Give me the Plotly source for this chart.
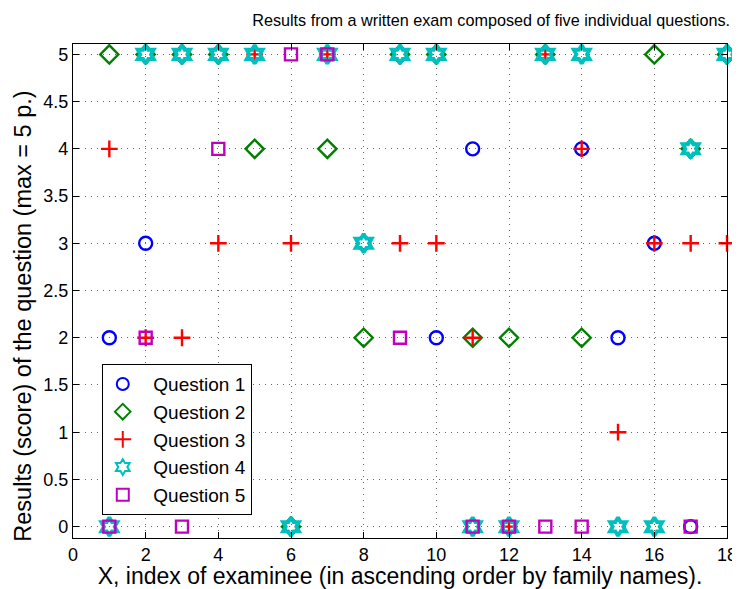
import plotly.graph_objects as go

examinee = list(range(1, 19))
q1 = [2, 3, 5, 5, 5, 0, 5, 3, 5, 2, 4, 0, 5, 4, 2, 3, 0, 5]
q2 = [5, 5, 5, 5, 4, 0, 4, 2, 5, 5, 2, 2, 5, 2, None, 5, 4, 5]
q3 = [4, 2, 2, 3, 5, 3, 5, None, 3, 3, 2, 0, 5, 4, 1, 3, 3, 3]
q4 = [0, 5, 5, 5, 5, 0, 5, 3, 5, 5, 0, 0, 5, 5, 0, 0, 4, 5]
q5 = [0, 2, 0, 4, None, 5, 5, None, 2, None, 0, 0, 0, 0, None, None, 0, None]

series = [
    ("Question 1", q1, "circle-open", "#0000FF", 13, 2.4),
    ("Question 2", q2, "diamond-open", "#008000", 14, 2.4),
    ("Question 3", q3, "cross-thin-open", "#FF0000", 12, 2.4),
    ("Question 4", q4, "hexagram-open", "#00BFBF", 14, 3.8),
    ("Question 5", q5, "square-open", "#BF00BF", 12, 2.4),
]

fig = go.Figure()
for name, vals, sym, col, sz, lw in series:
    fig.add_trace(go.Scatter(
        x=examinee, y=vals, mode="markers", name="\u00a0\u00a0" + name, cliponaxis=False,
        marker=dict(symbol=sym, size=sz, color=col, line=dict(color=col, width=lw)),
    ))

font = "Liberation Sans, Arial, sans-serif"
axis_common = dict(
    showline=True, linecolor="black", linewidth=1.2, mirror="ticks",
    ticks="inside", ticklen=6, tickcolor="black", automargin=False,
    showgrid=True, gridcolor="#666666", griddash="1px,5px", gridwidth=1,
    zeroline=False, tickfont=dict(size=18, color="black", family=font),
)
fig.update_xaxes(range=[0, 18], tickvals=list(range(0, 19, 2)),
                 title=dict(text="X, index of examinee (in ascending order by family names).",
                            font=dict(size=23, color="black", family=font), standoff=1),
                 **axis_common)
fig.update_yaxes(range=[-0.12, 5.11], tickvals=[i * 0.5 for i in range(11)],
                 ticktext=["0", "0.5", "1", "1.5", "2", "2.5", "3", "3.5", "4", "4.5", "5"],
                 **axis_common)
fig.add_annotation(text="Results (score) of the question (max = 5 p.)",
                   xref="paper", yref="paper", x=-0.0765, y=0.45,
                   xanchor="center", yanchor="middle", textangle=-90, showarrow=False,
                   font=dict(size=23.5, color="black", family=font))
fig.update_layout(
    width=732, height=581,
    margin=dict(l=65, r=13, t=36, b=51),
    paper_bgcolor="white", plot_bgcolor="white",
    title=dict(text="Results from a written exam composed of five individual questions.",
               x=0.66, xanchor="center", y=0.979, yanchor="middle",
               font=dict(size=16.2, color="black", family=font)),
    showlegend=True,
    legend=dict(x=0.044, y=0.352, xanchor="left", yanchor="top",
                bgcolor="white", bordercolor="black", borderwidth=1,
                font=dict(size=19, color="black", family=font),
                itemsizing="constant", tracegroupgap=0),
)
fig.write_html("out.html")
